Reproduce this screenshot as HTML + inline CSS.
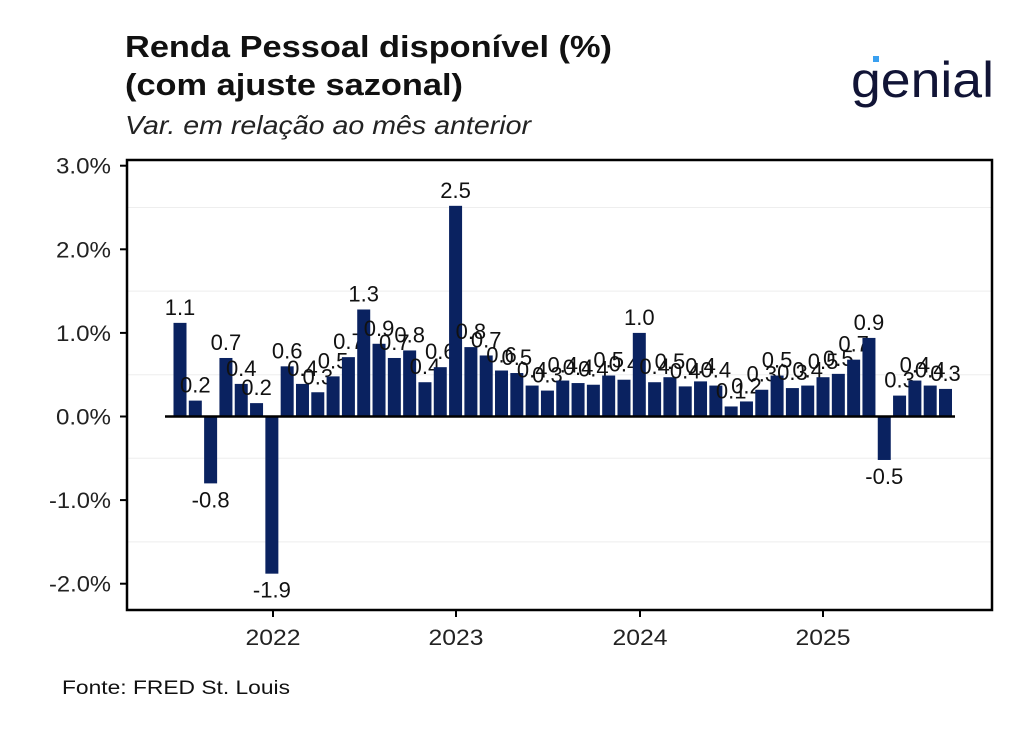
<!DOCTYPE html>
<html><head><meta charset="utf-8"><style>
body{margin:0;background:#fff;width:1024px;height:731px;overflow:hidden;font-family:"Liberation Sans",Arial,sans-serif}
</style></head><body>
<svg id="s" width="1024" height="731" xmlns="http://www.w3.org/2000/svg" font-family="Liberation Sans, Arial, sans-serif">
<rect width="1024" height="731" fill="#fff"/>
<text x="125" y="57" font-size="31" font-weight="bold" fill="#111" textLength="487" lengthAdjust="spacingAndGlyphs">Renda Pessoal disponível (%)</text>
<text x="125" y="95" font-size="31" font-weight="bold" fill="#111" textLength="338" lengthAdjust="spacingAndGlyphs">(com ajuste sazonal)</text>
<text x="125" y="134" font-size="26" font-style="italic" fill="#222" textLength="406" lengthAdjust="spacingAndGlyphs">Var. em relação ao mês anterior</text>
<text x="851" y="97" font-size="50" fill="#111436" textLength="143" lengthAdjust="spacingAndGlyphs">genial</text>
<rect x="873" y="56" width="6" height="6" fill="#3aa0f0"/>
<text x="62" y="694" font-size="19" fill="#111" textLength="228" lengthAdjust="spacingAndGlyphs">Fonte: FRED St. Louis</text>
<g id="g"></g>
</svg>
<script>
var v=[1.12,0.19,-0.8,0.7,0.39,0.16,-1.88,0.6,0.39,0.29,0.48,0.71,1.28,0.87,0.70,0.79,0.41,0.59,2.52,0.83,0.73,0.55,0.52,0.37,0.31,0.43,0.40,0.38,0.49,0.44,1.0,0.41,0.47,0.36,0.42,0.37,0.12,0.18,0.32,0.49,0.34,0.37,0.47,0.51,0.68,0.94,-0.52,0.25,0.43,0.37,0.33];
var z=416.5,k=83.6,h='';
for(var t=-1.5;t<=2.5;t+=1){var y=z-t*k;h+='<line x1="127" x2="992" y1="'+y+'" y2="'+y+'" stroke="#eee" stroke-width="1"/>';}
for(var t=-2;t<=3;t++){var y=z-t*k;
h+='<line x1="120" x2="127" y1="'+y+'" y2="'+y+'" stroke="#000" stroke-width="2"/>';
h+='<text x="111" y="'+(y+8)+'" font-size="22" text-anchor="end" fill="#222" textLength="'+(t<0?62:55)+'" lengthAdjust="spacingAndGlyphs">'+t.toFixed(1)+'%</text>';}
v.forEach(function(d,i){var x=180+i*15.31;var top=d>0?z-d*k:z,hh=Math.abs(d)*k;
h+='<rect x="'+(x-6.5)+'" y="'+top+'" width="13" height="'+hh+'" fill="#0a2260"/>';
var ly=d>0?top-8:z+hh+24;
h+='<text x="'+x+'" y="'+ly+'" font-size="22" text-anchor="middle" fill="#111">'+d.toFixed(1)+'</text>';});
h+='<line x1="165" x2="955" y1="'+z+'" y2="'+z+'" stroke="#000" stroke-width="2.5"/>';
h+='<rect x="127" y="160" width="865" height="450" fill="none" stroke="#000" stroke-width="2.5"/>';
[[273,'2022'],[456,'2023'],[640,'2024'],[823,'2025']].forEach(function(a){
h+='<line x1="'+a[0]+'" x2="'+a[0]+'" y1="610" y2="617" stroke="#000" stroke-width="2"/>';
h+='<text x="'+a[0]+'" y="645" font-size="22" text-anchor="middle" fill="#222" textLength="55" lengthAdjust="spacingAndGlyphs">'+a[1]+'</text>';});
document.getElementById('g').innerHTML=h;
</script>
</body></html>
